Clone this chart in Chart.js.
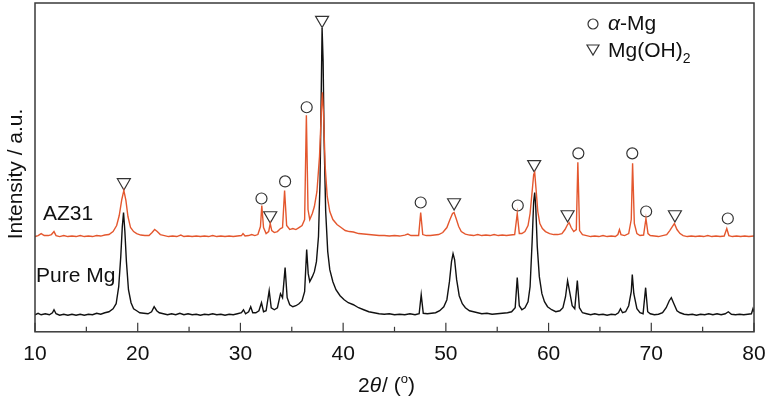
<!DOCTYPE html>
<html>
<head>
<meta charset="utf-8">
<script src="https://cdn.jsdelivr.net/npm/chart.js@4"></script>
<style>
  html, body { margin: 0; padding: 0; background: #fff; }
  #wrap { width: 768px; height: 399px; }
</style>
</head>
<body>
<div id="wrap"><canvas id="xrd" width="768" height="399"></canvas></div>
<script>
// 2theta ticks
const xTicks = [10, 20, 30, 40, 50, 60, 70, 80];

// Pure Mg pattern [2theta, intensity a.u.]
const pureMg = [
  [10,17],[10.3,18.5],[10.6,17],[11,18],[11.4,17],[11.7,19],[11.85,22],[12.05,18],[12.4,16.5],[12.8,17.5],
  [13.2,16.5],[13.6,17.5],[14,16.5],[14.4,17.5],[14.8,16.5],[15.2,17.5],[15.6,17],[16,18.5],[16.4,17.5],[16.8,19],
  [17.2,20],[17.6,23],[17.9,28],[18.15,45],[18.35,75],[18.5,105],[18.62,119],[18.75,100],[18.9,70],[19.1,42],
  [19.35,29],[19.6,23],[19.9,21],[20.2,19],[20.6,18.5],[21,18],[21.35,20],[21.6,25],[21.85,21],[22.1,19],
  [22.5,18],[22.9,17],[23.3,18],[23.7,17],[24.1,18.5],[24.5,17],[24.9,18],[25.3,17],[25.7,17.5],[26.1,16.5],
  [26.5,17.5],[26.9,17],[27.3,18],[27.7,17],[28.1,17.5],[28.5,16.5],[28.9,17.5],[29.3,17],[29.7,18],[30.1,19],
  [30.3,22],[30.5,18],[30.8,20],[31.0,25],[31.2,19],[31.5,19],[31.8,21],[32.05,29],[32.25,20],[32.5,21],
  [32.8,41],[33.0,24],[33.3,22],[33.6,24],[33.9,38],[34.1,34],[34.35,64],[34.55,34],[34.8,27],[35.1,25],
  [35.4,26],[35.7,28],[36.0,31],[36.25,40],[36.45,82],[36.6,58],[36.75,50],[37.0,55],[37.2,60],[37.4,70],
  [37.6,95],[37.75,150],[37.87,240],[37.95,303],[38.05,270],[38.15,190],[38.3,120],[38.5,80],[38.7,62],[39.0,50],
  [39.3,42],[39.7,36],[40.1,32],[40.5,29],[41,27],[41.5,24],[42,22],[42.5,20],[43,19],[43.5,18],
  [44,17.5],[44.5,18],[45,17],[45.5,17.5],[46,17],[46.5,18],[47,17],[47.4,18],[47.6,37],[47.8,18.5],
  [48.2,18],[48.6,18.5],[49,19],[49.4,21],[49.8,25],[50.1,32],[50.35,50],[50.55,70],[50.7,78],[50.85,72],
  [51.05,52],[51.3,36],[51.6,28],[51.9,24],[52.3,21],[52.7,20],[53.1,19],[53.5,18],[54,18.5],[54.5,17.5],
  [55,18],[55.5,18.5],[56,19],[56.4,20],[56.75,24],[56.95,54],[57.15,26],[57.4,22],[57.7,24],[58.0,30],
  [58.2,45],[58.4,90],[58.55,130],[58.65,139],[58.75,125],[58.9,85],[59.1,55],[59.35,38],[59.6,30],[59.9,25],
  [60.3,22],[60.7,20],[61.1,21],[61.4,24],[61.65,35],[61.85,51],[62.05,40],[62.3,26],[62.55,23],[62.8,51],
  [63.0,24],[63.3,19],[63.7,18],[64.1,17],[64.5,18],[64.9,17],[65.3,17.5],[65.7,16.5],[66.1,17.5],[66.5,17],
  [66.8,19],[67.0,23],[67.2,19],[67.5,20],[67.8,26],[68.05,40],[68.15,57],[68.3,38],[68.6,23],[68.9,19],
  [69.2,18],[69.45,44],[69.65,20],[69.9,18],[70.3,17],[70.7,17.5],[71.1,19],[71.45,24],[71.75,31],[71.95,34],
  [72.2,28],[72.5,21],[72.8,19],[73.2,17.5],[73.6,17],[74,17.5],[74.4,16.5],[74.8,17.5],[75.2,17],[75.6,18],
  [76,17],[76.4,18],[76.8,17],[77.2,18],[77.5,20],[77.8,17.5],[78.2,17],[78.6,17.5],[79,17],[79.4,17.5],
  [79.75,18],[79.9,23],[80,20]
];

// AZ31 pattern (offset upward)
const az31 = [
  [10,95],[10.3,96],[10.6,98],[10.9,96],[11.3,96],[11.6,97],[11.85,100],[12.05,96],[12.4,95],[12.8,96],
  [13.2,95],[13.6,95.5],[14,95],[14.4,96],[14.8,95],[15.2,95.5],[15.6,95],[16,96],[16.4,95.5],[16.8,96.5],
  [17.2,97],[17.6,100],[17.95,106],[18.2,116],[18.45,132],[18.65,141],[18.85,131],[19.05,115],[19.3,104],[19.6,100],
  [19.9,98],[20.3,96.5],[20.7,96],[21.1,96],[21.4,99],[21.65,102],[21.9,100],[22.2,97],[22.6,96],[23,95],
  [23.4,95.5],[23.8,95],[24.2,96.5],[24.5,95],[24.9,95.5],[25.3,95],[25.7,95.5],[26.1,95],[26.5,95.5],[26.9,95],
  [27.3,96],[27.7,95],[28.1,95.5],[28.5,95],[28.9,95.5],[29.3,95],[29.7,95.5],[30.1,96],[30.25,98],[30.45,95.5],
  [30.8,96],[31.1,97],[31.4,96],[31.7,97],[31.95,105],[32.08,126],[32.25,104],[32.5,98],[32.75,100],[32.9,108],
  [33.05,101],[33.3,99],[33.6,100],[33.9,103],[34.1,104],[34.3,141],[34.5,106],[34.8,102],[35.1,103],[35.4,102],
  [35.7,104],[36.0,106],[36.25,112],[36.42,216],[36.58,122],[36.75,112],[37.0,118],[37.2,125],[37.45,140],[37.7,175],
  [37.9,225],[37.98,239],[38.1,215],[38.25,165],[38.45,135],[38.7,120],[39,112],[39.4,107],[39.8,104],[40.2,101],
  [40.6,100],[41,99.5],[41.5,98],[42,97.5],[42.5,97],[43,96.5],[43.5,96],[44,96],[44.5,95.5],[45,96],
  [45.5,95.5],[46,96.5],[46.3,97.5],[46.6,96],[47,96],[47.35,96],[47.55,119],[47.75,97],[48.1,96],[48.5,96],
  [48.9,96.5],[49.3,97],[49.7,99],[50.1,104],[50.4,112],[50.65,118],[50.8,119],[51,113],[51.25,105],[51.5,100],
  [51.9,97.5],[52.3,96.5],[52.7,96],[53.1,97],[53.5,96],[53.9,96.5],[54.3,96],[54.7,97],[55.1,96],[55.5,96.5],
  [55.9,96],[56.3,96.5],[56.7,97],[56.95,118],[57.15,98],[57.4,98],[57.7,100],[58,106],[58.2,118],[58.4,140],
  [58.55,157],[58.65,159],[58.8,140],[58.95,120],[59.15,108],[59.4,103],[59.7,100],[60.1,98],[60.5,97],[60.9,97],
  [61.3,98],[61.6,102],[61.85,107],[62.0,109],[62.2,104],[62.45,100],[62.7,102],[62.85,169],[63.02,101],[63.3,97],
  [63.7,96],[64.1,95],[64.5,95.5],[64.9,95],[65.3,96],[65.7,95],[66.1,95.5],[66.5,95],[66.75,97],[66.9,102],
  [67.05,97],[67.4,96],[67.8,98],[68.05,112],[68.18,168],[68.35,108],[68.6,98],[68.9,96],[69.25,96.5],[69.48,113],
  [69.68,98],[69.9,96],[70.3,95.5],[70.7,95],[71.1,96],[71.5,97],[71.8,101],[72.05,105],[72.25,108],[72.5,102],
  [72.8,98],[73.1,96],[73.5,95],[73.9,95.5],[74.3,95],[74.7,95.5],[75.1,95],[75.5,96],[75.9,95],[76.3,95.5],
  [76.7,95],[77.1,95.5],[77.35,103],[77.55,96],[77.9,95],[78.3,95.5],[78.7,95],[79.1,95.5],[79.5,95],[80,95.5]
];

// phase markers
const alphaMg = [[32.05,133],[34.35,150],[36.45,224],[47.55,129],[57.0,126],[62.9,178],[68.15,178],[69.5,120],[77.45,113]];
const mgOH2 = [[18.65,149],[32.9,116],[37.95,311],[50.8,129],[58.6,167],[61.85,117],[72.3,117]];

const toXY = arr => arr.map(p => ({ x: p[0], y: p[1] }));
const FONT = "Arial, 'Liberation Sans', sans-serif";

const framePlugin = {
  id: "frame",
  afterDraw(chart) {
    const { ctx, chartArea: a, scales } = chart;
    const xs = scales.x;
    ctx.save();
    ctx.strokeStyle = "#3a3a3a";
    ctx.lineWidth = 1.5;
    ctx.strokeRect(a.left, a.top, a.right - a.left, a.bottom - a.top);
    // inward ticks
    ctx.lineWidth = 1.2;
    for (let v = 10; v <= 80; v += 5) {
      const px = xs.getPixelForValue(v);
      const len = v % 10 === 0 ? 9 : 5;
      ctx.beginPath();
      ctx.moveTo(px, a.bottom);
      ctx.lineTo(px, a.bottom - len);
      ctx.stroke();
    }

    ctx.fillStyle = "#111";
    ctx.textBaseline = "alphabetic";
    // series labels
    ctx.font = "21px " + FONT;
    ctx.textAlign = "left";
    ctx.fillText("AZ31", 43, 220);
    ctx.fillText("Pure Mg", 36, 282);

    // x title: 2θ / (°)
    let x = 358, y = 392;
    ctx.fillText("2", x, y); x += ctx.measureText("2").width;
    ctx.font = "italic 21px " + FONT;
    ctx.fillText("θ", x, y); x += ctx.measureText("θ").width + 1;
    ctx.font = "21px " + FONT;
    ctx.fillText("/ (", x, y); x += ctx.measureText("/ (").width;
    ctx.font = "13px " + FONT;
    ctx.fillText("o", x, y - 9); x += ctx.measureText("o").width;
    ctx.font = "21px " + FONT;
    ctx.fillText(")", x, y);

    // y title
    ctx.save();
    ctx.translate(22, 174);
    ctx.rotate(-Math.PI / 2);
    ctx.textAlign = "center";
    ctx.fillText("Intensity / a.u.", 0, 0);
    ctx.restore();

    // legend
    ctx.strokeStyle = "#333";
    ctx.lineWidth = 1.2;
    ctx.beginPath();
    ctx.arc(593, 24, 5, 0, Math.PI * 2);
    ctx.stroke();
    ctx.beginPath();
    ctx.moveTo(587, 45); ctx.lineTo(599, 45); ctx.lineTo(593, 55); ctx.closePath();
    ctx.stroke();

    x = 608; y = 30;
    ctx.font = "italic 21px " + FONT;
    ctx.fillText("α", x, y); x += ctx.measureText("α").width;
    ctx.font = "21px " + FONT;
    ctx.fillText("-Mg", x, y);
    x = 608; y = 57;
    ctx.fillText("Mg(OH)", x, y); x += ctx.measureText("Mg(OH)").width;
    ctx.font = "14px " + FONT;
    ctx.fillText("2", x, y + 6);
    ctx.restore();
  }
};

new Chart(document.getElementById("xrd"), {
  type: "scatter",
  data: {
    datasets: [
      {
        label: "AZ31",
        data: toXY(az31),
        showLine: true,
        borderColor: "#e4572e",
        borderWidth: 1.4,
        pointRadius: 0,
        tension: 0
      },
      {
        label: "Pure Mg",
        data: toXY(pureMg),
        showLine: true,
        borderColor: "#111111",
        borderWidth: 1.4,
        pointRadius: 0,
        tension: 0
      },
      {
        label: "α-Mg",
        data: toXY(alphaMg),
        pointStyle: "circle",
        pointRadius: 5.5,
        borderColor: "#333",
        borderWidth: 1.2,
        backgroundColor: "rgba(0,0,0,0)"
      },
      {
        label: "Mg(OH)2",
        data: toXY(mgOH2),
        pointStyle: "triangle",
        rotation: 180,
        pointRadius: 7.5,
        borderColor: "#333",
        borderWidth: 1.2,
        backgroundColor: "rgba(0,0,0,0)"
      }
    ]
  },
  options: {
    responsive: false,
    animation: false,
    layout: { autoPadding: false, padding: { left: 35, right: 14, top: 3, bottom: 22 } },
    plugins: { legend: { display: false }, tooltip: { enabled: false } },
    scales: {
      x: {
        type: "linear",
        min: 10,
        max: 80,
        afterBuildTicks: s => { s.ticks = xTicks.map(v => ({ value: v })); },
        afterFit: s => { s.paddingLeft = 0; s.paddingRight = 0; },
        grid: { display: false, drawTicks: false },
        border: { display: false },
        ticks: { color: "#111", padding: 10, font: { family: FONT, size: 21 } }
      },
      y: {
        display: false,
        min: 0,
        max: 328
      }
    }
  },
  plugins: [framePlugin]
});
</script>
</body>
</html>
